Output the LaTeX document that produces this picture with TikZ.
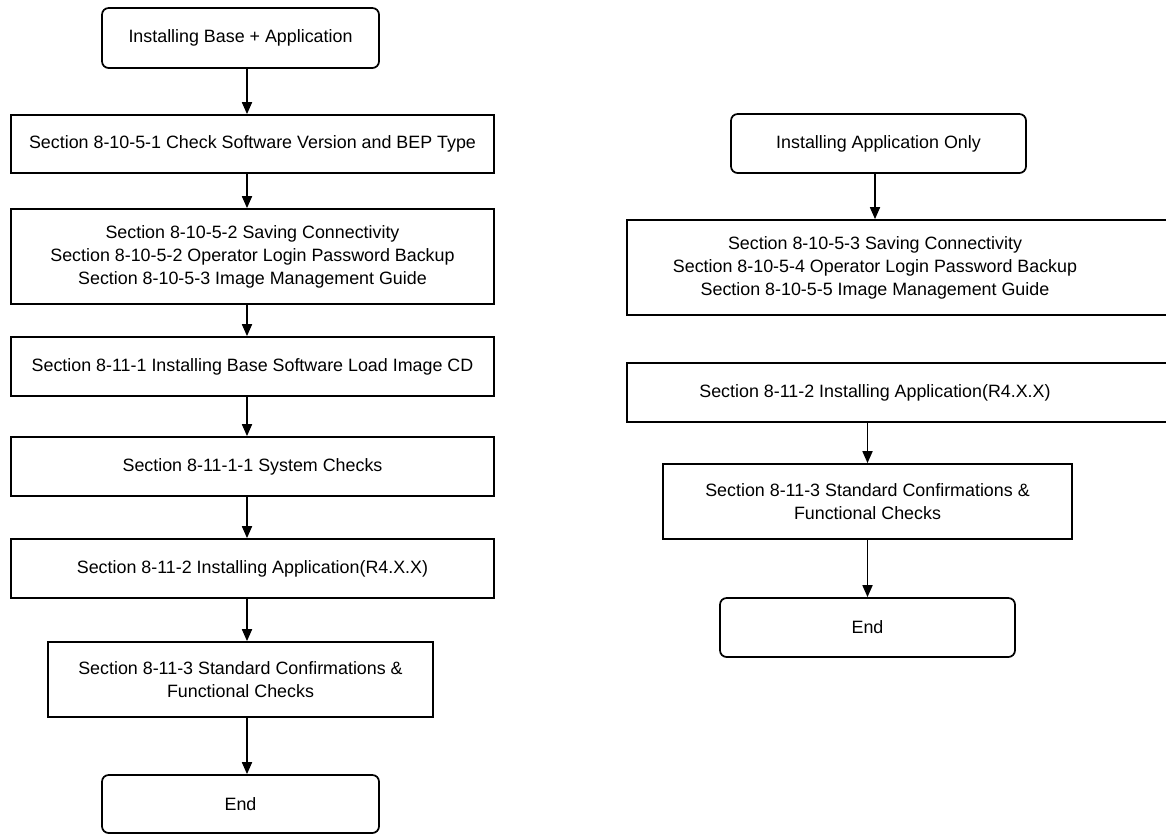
\documentclass[tikz,border=0pt]{standalone}
\usepackage{fontspec}
\setmainfont{Liberation Sans}
\usepackage{tikz}
\usetikzlibrary{arrows.meta,positioning}
\tikzstyle{flow}=[
  x=0.75pt, y=-0.75pt, line width=1.3pt, font=\fontsize{13.4}{17.3}\selectfont
]
\tikzstyle{termbox}=[draw, rounded corners=5pt, align=center, inner sep=0pt]
\tikzstyle{procbox}=[draw, align=center, inner sep=0pt]
\tikzstyle{go}=[-{Triangle[width=7.5pt,length=9pt]}]

\begin{document}
\begin{tikzpicture}[flow]
  \useasboundingbox (0,0) rectangle (1166,833);
  \clip (0,0) rectangle (1166,833);
  \fill[white] (0,0) rectangle (1166,833);

  % base + application
  \coordinate (axL) at (247,0);
  \node[termbox, minimum width=207.75pt, minimum height=45pt] (startL) at (240.5,38)
    {Installing Base + Application};
  \node[procbox, minimum width=362.25pt, minimum height=43.5pt] (b1) at (252.5,144)
    {Section 8-10-5-1 Check Software Version and BEP Type};
  \node[procbox, minimum width=362.25pt, minimum height=71.25pt] (b2) at (252.5,256.5)
    {Section 8-10-5-2 Saving Connectivity\\
     Section 8-10-5-2 Operator Login Password Backup\\
     Section 8-10-5-3 Image Management Guide};
  \node[procbox, minimum width=362.25pt, minimum height=44.25pt] (b3) at (252.5,366.5)
    {Section 8-11-1 Installing Base Software Load Image CD};
  \node[procbox, minimum width=362.25pt, minimum height=44.25pt] (b4) at (252.5,466.5)
    {Section 8-11-1-1 System Checks};
  \node[procbox, minimum width=362.25pt, minimum height=44.25pt] (b5) at (252.5,568.5)
    {Section 8-11-2 Installing Application(R4.X.X)};
  \node[procbox, minimum width=288.75pt, minimum height=56.25pt] (b6) at (240.5,679.5)
    {Section 8-11-3 Standard Confirmations \&\\ Functional Checks};
  \node[termbox, minimum width=207.75pt, minimum height=43.5pt] (endL) at (240.5,804)
    {End};

  \foreach \a/\b in {startL/b1, b1/b2, b2/b3, b3/b4, b4/b5, b5/b6, b6/endL}
    \draw[go] (\a.south -| axL) -- (\b.north -| axL);

  % application only
  \node[termbox, minimum width=221.25pt, minimum height=44.25pt] (startR) at (878.5,143.5)
    {Installing Application Only};
  \node[procbox, minimum width=420pt, minimum height=71.25pt] (r1) at (907,267.5) {};
  \node[align=center] (r1t) at (875,267.5)
    {Section 8-10-5-3 Saving Connectivity\\
     Section 8-10-5-4 Operator Login Password Backup\\
     Section 8-10-5-5 Image Management Guide};
  \node[procbox, minimum width=420pt, minimum height=44.25pt] (r2) at (907,392.5) {};
  \node (r2t) at (875,392.5) {Section 8-11-2 Installing Application(R4.X.X)};
  \node[procbox, minimum width=306.75pt, minimum height=56.25pt] (r3) at (867.5,501.5)
    {Section 8-11-3 Standard Confirmations \&\\ Functional Checks};
  \node[termbox, minimum width=221.25pt, minimum height=44.25pt] (endR) at (867.5,627.5)
    {End};

  \draw[go] (startR.south -| r1t) -- (r1.north -| r1t);
  \draw[go] (r2.south -| r3) -- (r3.north);
  \draw[go] (r3) -- (endR);
\end{tikzpicture}
\end{document}
